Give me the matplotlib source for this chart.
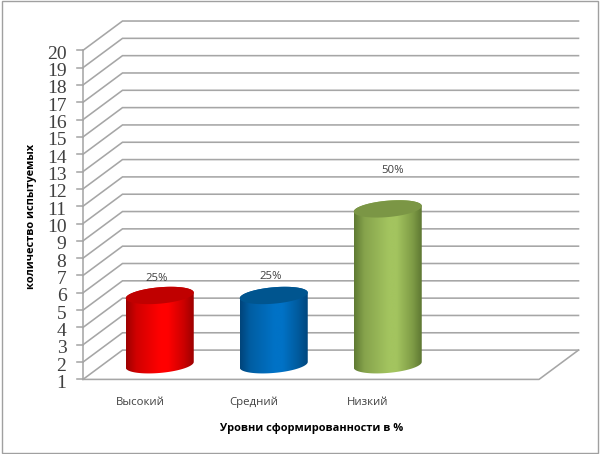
import numpy as np
import matplotlib
matplotlib.use("Agg")
import matplotlib.pyplot as plt
from matplotlib.colors import LinearSegmentedColormap
from matplotlib.patches import Polygon, Rectangle

categories = ["Высокий", "Средний", "Низкий", ""]
values = [5, 5, 10]
percent_labels = ["25%", "25%", "50%"]
y_ticks = list(range(1, 21))
x_title = "Уровни сформированности в %"
y_title = "количество испытуемых"

body_stops = [
    ["#9c0000", "#d00000", "#ff0000", "#ff0000", "#cc0000", "#9c0000"],
    ["#00447a", "#005ea3", "#0072c6", "#0072c6", "#005a9c", "#00447a"],
    ["#5f7a33", "#86a34c", "#a3c45f", "#a3c45f", "#7f9c46", "#5a7331"],
]
top_colors = ["#c00000", "#00558f", "#7b9645"]

PX_PER_CAT = 114.0
PX_PER_VAL = 17.32
FRONT_X0, FRONT_Y0 = 83.0, 379.4
DEPTH_X, DEPTH_Y = 39.5 / PX_PER_CAT, 29.3 / PX_PER_VAL
W, H = 600, 454
GRID = "#a6a6a6"
PT = 0.72  # points per pixel at 100 dpi

fig = plt.figure(figsize=(6.0, 4.54), dpi=100, facecolor="white")
ax = fig.add_axes([0, 0, 1, 1])
ax.axis("off")

x_left, x_right = -0.5, 3.5
v_min, v_max = y_ticks[0], y_ticks[-1]

# grid: side wall + back wall
for v in y_ticks:
    ax.plot([x_left, x_left + DEPTH_X, x_right + DEPTH_X],
            [v, v + DEPTH_Y, v + DEPTH_Y], color=GRID, lw=1.15, zorder=1,
            solid_joinstyle="miter")
    ax.plot([x_left - 5.5 / PX_PER_CAT, x_left], [v, v], color=GRID, lw=1.15, zorder=1)
ax.plot([x_left, x_left], [v_min, v_max], color=GRID, lw=1.15, zorder=1)
ax.plot([x_left, x_right, x_right + DEPTH_X],
        [v_min, v_min, v_min + DEPTH_Y], color=GRID, lw=1.15, zorder=1)

# cylinders
half_w = 0.5 * 68 / PX_PER_CAT
tilt = 2.85 / PX_PER_VAL
minor = 8.2 / PX_PER_VAL
t = np.linspace(0, 2 * np.pi, 181)
for i, v in enumerate(values):
    cx = i + DEPTH_X / 2
    y_bot = v_min + DEPTH_Y / 2
    y_top = v + DEPTH_Y / 2
    ex = half_w * np.cos(t)
    ey = tilt * np.cos(t) + minor * np.sin(t)
    lo_t = np.linspace(np.pi, 2 * np.pi, 91)
    up_t = np.linspace(0, np.pi, 91)
    body = np.vstack([
        np.c_[cx + half_w * np.cos(lo_t), y_bot + tilt * np.cos(lo_t) + minor * np.sin(lo_t)],
        np.c_[cx + half_w * np.cos(up_t), y_top + tilt * np.cos(up_t) + minor * np.sin(up_t)],
    ])
    cmap = LinearSegmentedColormap.from_list(
        "b", list(zip([0, 0.15, 0.5, 0.62, 0.85, 1], body_stops[i])))
    im = ax.imshow(np.linspace(0, 1, 256)[None, :], cmap=cmap, aspect="auto",
                   extent=[cx - half_w, cx + half_w, v_min - 1, y_top + 2],
                   zorder=3, interpolation="bilinear")
    clip = Polygon(body, closed=True, transform=ax.transData, fc="none", ec="none")
    ax.add_patch(clip)
    im.set_clip_path(clip)
    ax.fill(cx + ex, y_top + ey, color=top_colors[i], lw=0, zorder=4)

# percent labels (offset in pixels from the top of each bar)
label_offsets = [(-3.5, 16.5), (-3.5, 18.5), (5, 38)]
for i, (v, s) in enumerate(zip(values, percent_labels)):
    dx, dy = label_offsets[i]
    ax.annotate(s, (i + DEPTH_X / 2, v + DEPTH_Y / 2),
                xytext=(dx * PT, dy * PT), textcoords="offset points",
                ha="center", va="center", fontsize=8.2, color="#404040",
                family="Open Sans", zorder=6)

# tick labels
for v in y_ticks:
    ax.annotate(str(v), (x_left, v), xytext=(-16.5 * PT, -4.0 * PT),
                textcoords="offset points", ha="right", va="center",
                fontsize=14, color="#404040", family="Liberation Serif", zorder=6)
for i, c in enumerate(categories):
    if c:
        ax.annotate(c, (i, v_min), xytext=(0, -25.5 * PT), textcoords="offset points",
                    ha="center", va="baseline", fontsize=8.2, color="#404040",
                    family="Open Sans", zorder=6)

fig.text(311.5 / W, 1 - 431.5 / H, x_title, ha="center", va="baseline", fontsize=7.9,
         fontweight="bold", color="black", family="Open Sans")
fig.text(32 / W, 1 - 216.5 / H, y_title, ha="center", va="center", rotation=90,
         fontsize=7.9, fontweight="bold", color="black", family="Open Sans")

# outer chart border
fig.add_artist(Rectangle((1.5 / W, 1 - 452.7 / H), 596.2 / W, 452.0 / H,
                         transform=fig.transFigure, fc="none", ec="#a0a0a0", lw=1.0))

ax.set_xlim(x_left - FRONT_X0 / PX_PER_CAT, x_left + (W - FRONT_X0) / PX_PER_CAT)
ax.set_ylim(v_min - (H - FRONT_Y0) / PX_PER_VAL, v_min + FRONT_Y0 / PX_PER_VAL)

fig.savefig("out.png", dpi=100)
